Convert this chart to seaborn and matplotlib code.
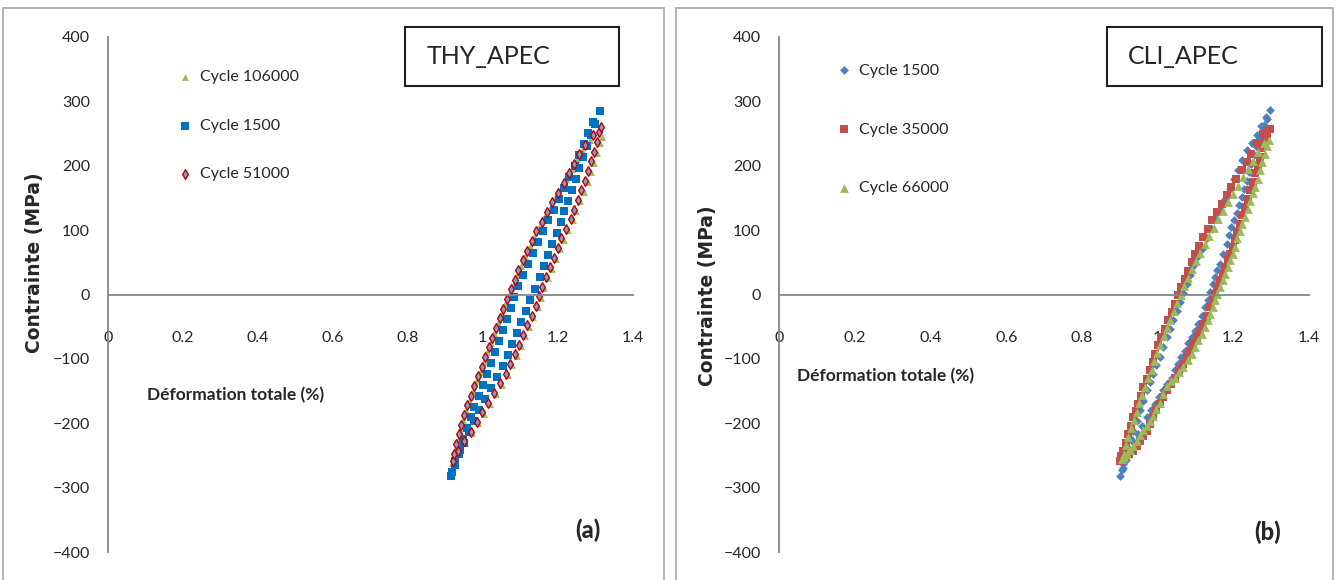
import matplotlib
matplotlib.use("Agg")
import matplotlib.pyplot as plt
import seaborn as sns
import numpy as np
from matplotlib.patches import Rectangle

# ---- data : strain (%) / stress (MPa), one closed loop per cycle ----
# loading branch (bottom -> top) followed by unloading branch (top -> bottom)

# THY_APEC, cycle 106000
thy_106000_strain = [0.917, 0.934, 0.953, 0.971, 0.988, 1.004, 1.020, 1.036, 1.051, 1.066, 1.078, 1.090,
                     1.101, 1.112, 1.123, 1.135, 1.146, 1.155, 1.164, 1.174, 1.185, 1.195, 1.206, 1.216,
                     1.227, 1.240, 1.250, 1.260, 1.270, 1.280, 1.288, 1.296, 1.305, 1.313, 1.319,
                     1.285, 1.266, 1.251, 1.237, 1.223, 1.209, 1.194, 1.179, 1.164, 1.150, 1.137, 1.125,
                     1.113, 1.101, 1.090, 1.080, 1.069, 1.059, 1.050, 1.040, 1.030, 1.021, 1.012, 1.003,
                     0.993, 0.983, 0.973, 0.964, 0.956, 0.948, 0.940, 0.933, 0.927, 0.921]
thy_106000_stress = [-262, -245, -230, -215, -200, -185, -170, -155, -140, -125, -110, -95,
                     -80, -65, -50, -35, -20, -5, 10, 25, 40, 55, 70, 85,
                     100, 115, 130, 145, 160, 175, 190, 205, 220, 235, 245,
                     240, 225, 210, 195, 180, 165, 150, 135, 120, 105, 90, 75,
                     60, 45, 30, 15, 0, -15, -30, -45, -60, -75, -90, -105,
                     -120, -135, -150, -165, -180, -195, -210, -225, -240, -252]

# THY_APEC, cycle 1500
thy_1500_strain = [0.914, 0.925, 0.936, 0.949, 0.962, 0.976, 0.990, 1.005, 1.021, 1.038, 1.053, 1.066,
                   1.078, 1.091, 1.103, 1.116, 1.127, 1.138, 1.152, 1.164, 1.174, 1.186, 1.198, 1.208,
                   1.218, 1.228, 1.238, 1.248, 1.258, 1.268, 1.278, 1.290, 1.300, 1.312,
                   1.295, 1.282, 1.270, 1.258, 1.245, 1.231, 1.217, 1.203, 1.189, 1.175, 1.161, 1.147,
                   1.133, 1.120, 1.107, 1.094, 1.083, 1.074, 1.064, 1.053, 1.043, 1.032, 1.021, 1.011,
                   1.000, 0.989, 0.977, 0.968, 0.958, 0.948, 0.938, 0.927, 0.917]
thy_1500_stress = [-282, -265, -248, -231, -214, -197, -180, -163, -146, -128, -111, -94,
                   -77, -60, -43, -25, -8, 9, 27, 44, 61, 78, 95, 112,
                   129, 146, 163, 180, 197, 214, 231, 248, 265, 285,
                   268, 251, 234, 217, 200, 183, 166, 149, 132, 115, 98, 81,
                   64, 47, 30, 13, -4, -21, -38, -55, -72, -89, -106, -123,
                   -140, -157, -174, -191, -208, -225, -242, -259, -276]

# THY_APEC, cycle 51000
thy_51000_strain = [0.921, 0.933, 0.951, 0.968, 0.984, 0.999, 1.015, 1.030, 1.046, 1.061, 1.072, 1.085,
                    1.096, 1.107, 1.118, 1.130, 1.141, 1.150, 1.158, 1.168, 1.179, 1.189, 1.200, 1.210,
                    1.221, 1.235, 1.244, 1.254, 1.263, 1.273, 1.281, 1.289, 1.297, 1.304, 1.311, 1.315,
                    1.293, 1.273, 1.258, 1.244, 1.230, 1.216, 1.201, 1.186, 1.171, 1.157, 1.143, 1.131,
                    1.119, 1.107, 1.095, 1.085, 1.074, 1.064, 1.055, 1.045, 1.034, 1.025, 1.016, 1.007,
                    0.997, 0.987, 0.977, 0.968, 0.959, 0.951, 0.943, 0.936, 0.929, 0.924]
thy_51000_stress = [-258, -243, -228, -213, -198, -183, -168, -153, -138, -123, -108, -93,
                    -78, -63, -48, -33, -18, -3, 12, 27, 42, 57, 72, 87,
                    102, 117, 132, 147, 162, 177, 192, 207, 222, 237, 252, 260,
                    248, 233, 218, 203, 188, 173, 158, 143, 128, 113, 98, 83,
                    68, 53, 38, 23, 8, -7, -22, -37, -52, -67, -82, -97,
                    -112, -127, -142, -157, -172, -187, -202, -217, -232, -247]

# CLI_APEC, cycle 1500
cli_1500_strain = [0.900, 0.908, 0.917, 0.927, 0.938, 0.949, 0.960, 0.971, 0.982, 0.993, 1.004, 1.015,
                   1.026, 1.037, 1.046, 1.054, 1.063, 1.072, 1.081, 1.090, 1.099, 1.107, 1.116, 1.125,
                   1.132, 1.138, 1.145, 1.151, 1.158, 1.165, 1.174, 1.182, 1.189, 1.195, 1.202, 1.209,
                   1.216, 1.222, 1.229, 1.235, 1.242, 1.248, 1.255, 1.262, 1.268, 1.275, 1.281, 1.288, 1.298,
                   1.286, 1.274, 1.262, 1.249, 1.235, 1.224, 1.213, 1.202, 1.191, 1.178, 1.165, 1.154,
                   1.143, 1.130, 1.116, 1.105, 1.094, 1.086, 1.077, 1.068, 1.059, 1.050, 1.041, 1.033,
                   1.024, 1.015, 1.006, 0.997, 0.988, 0.980, 0.971, 0.962, 0.953, 0.945, 0.936, 0.929,
                   0.922, 0.916, 0.909, 0.905]
cli_1500_stress = [-282, -270, -257, -243, -230, -217, -204, -191, -180, -170, -159, -149,
                   -139, -129, -118, -108, -97, -87, -76, -66, -56, -46, -33, -20,
                   -8, 4, 16, 27, 38, 48, 63, 79, 92, 105, 116, 126,
                   139, 151, 164, 177, 190, 203, 216, 229, 241, 253, 263, 273, 286,
                   275, 262, 247, 236, 224, 209, 193, 179, 164, 149, 133, 118,
                   102, 87, 71, 58, 45, 31, 17, 3, -12, -26, -40, -53,
                   -66, -82, -97, -110, -123, -136, -149, -165, -180, -196, -212, -225,
                   -238, -251, -264, -273]

# CLI_APEC, cycle 35000
cli_35000_strain = [0.900, 0.914, 0.925, 0.936, 0.945, 0.953, 0.962, 0.971, 0.980, 0.988, 0.997, 1.006,
                    1.015, 1.024, 1.035, 1.046, 1.057, 1.068, 1.077, 1.085, 1.094, 1.103, 1.112, 1.121,
                    1.130, 1.138, 1.145, 1.151, 1.158, 1.165, 1.172, 1.178, 1.185, 1.191, 1.198, 1.204,
                    1.211, 1.217, 1.224, 1.231, 1.238, 1.244, 1.251, 1.257, 1.264, 1.270, 1.277, 1.283,
                    1.290, 1.297,
                    1.288, 1.279, 1.263, 1.248, 1.235, 1.222, 1.208, 1.195, 1.182, 1.169, 1.156, 1.143,
                    1.132, 1.121, 1.110, 1.099, 1.090, 1.081, 1.072, 1.063, 1.055, 1.046, 1.037, 1.028,
                    1.020, 1.011, 1.002, 0.993, 0.987, 0.980, 0.971, 0.962, 0.956, 0.949, 0.943, 0.936,
                    0.929, 0.922, 0.916, 0.909, 0.904]
cli_35000_stress = [-258, -253, -248, -243, -235, -227, -220, -212, -201, -191, -180, -170,
                    -159, -149, -139, -129, -118, -108, -97, -87, -76, -66, -56, -46,
                    -33, -20, -9, 1, 12, 22, 32, 42, 53, 63, 74, 84,
                    97, 110, 123, 136, 149, 162, 175, 188, 201, 214, 227, 240,
                    250, 257,
                    254, 250, 235, 219, 206, 193, 180, 167, 154, 141, 128, 115,
                    102, 89, 76, 63, 50, 37, 24, 11, -1, -14, -27, -40,
                    -53, -66, -79, -92, -105, -118, -131, -144, -157, -170, -181, -191,
                    -204, -217, -230, -243, -251]

# CLI_APEC, cycle 66000
cli_66000_strain = [0.905, 0.912, 0.918, 0.927, 0.936, 0.945, 0.953, 0.962, 0.971, 0.980, 0.988, 0.997,
                    1.006, 1.015, 1.024, 1.035, 1.046, 1.057, 1.068, 1.079, 1.090, 1.099, 1.107, 1.116,
                    1.125, 1.132, 1.138, 1.145, 1.151, 1.158, 1.165, 1.172, 1.178, 1.185, 1.191, 1.198,
                    1.204, 1.211, 1.217, 1.224, 1.231, 1.238, 1.244, 1.251, 1.257, 1.264, 1.270, 1.277,
                    1.283, 1.288, 1.294,
                    1.281, 1.266, 1.252, 1.239, 1.226, 1.212, 1.199, 1.186, 1.173, 1.160, 1.148, 1.136,
                    1.124, 1.112, 1.101, 1.090, 1.080, 1.070, 1.061, 1.052, 1.043, 1.034, 1.025, 1.016,
                    1.007, 0.998, 0.991, 0.984, 0.975, 0.966, 0.959, 0.952, 0.945, 0.937, 0.930, 0.923,
                    0.916, 0.910]
cli_66000_stress = [-256, -252, -248, -241, -235, -227, -219, -211, -204, -196, -188, -178,
                    -168, -155, -142, -135, -129, -121, -113, -102, -92, -81, -71, -61,
                    -51, -40, -30, -19, -9, 1, 11, 22, 32, 43, 53, 63,
                    74, 87, 99, 110, 120, 133, 146, 157, 167, 180, 193, 206,
                    219, 230, 240,
                    236, 222, 208, 195, 182, 169, 156, 143, 130, 117, 104, 91,
                    78, 65, 52, 39, 26, 13, 0, -13, -26, -39, -52, -65,
                    -78, -91, -104, -117, -130, -143, -156, -169, -182, -195, -208, -221,
                    -234, -247]

x_ticks = [0, 0.2, 0.4, 0.6, 0.8, 1.0, 1.2, 1.4]
x_tick_labels = ["0", "0.2", "0.4", "0.6", "0.8", "1", "1.2", "1.4"]
y_ticks = [-400, -300, -200, -100, 0, 100, 200, 300, 400]

sns.set_style("white")
plt.rcParams['font.family'] = ['Lato', 'DejaVu Sans']

W, H = 1335, 580
fig = plt.figure(figsize=(W / 100, H / 100), dpi=100)

def px(x0, y0, x1, y1):
    # pixel box -> figure fraction [left, bottom, width, height]
    return [x0 / W, 1 - y1 / H, (x1 - x0) / W, (y1 - y0) / H]

GREY = '#868686'

def setup_axes(ax):
    ax.set_xlim(0, 1.4)
    ax.set_ylim(-400, 400)
    ax.spines['top'].set_visible(False)
    ax.spines['right'].set_visible(False)
    ax.spines['bottom'].set_position(('data', 0))
    for s in ['left', 'bottom']:
        ax.spines[s].set_color(GREY)
        ax.spines[s].set_linewidth(1.3)
    ax.set_xticks(x_ticks)
    ax.set_xticklabels(x_tick_labels)
    ax.set_yticks(y_ticks)
    ax.tick_params(axis='x', direction='out', length=6, width=1.2, color=GREY, pad=20, labelsize=11.5)
    ax.tick_params(axis='y', direction='out', length=4, width=1.2, color=GREY, pad=9, labelsize=11.5)
    ax.set_facecolor('none')

# ---- panel (a) ----
ax1 = fig.add_axes(px(108, 37, 632.7, 552))
sns.scatterplot(x=thy_106000_strain, y=thy_106000_stress, marker='^', color='#9BBB59', s=24,
                linewidth=0, label='Cycle 106000', ax=ax1)
sns.scatterplot(x=thy_1500_strain, y=thy_1500_stress, marker='s', color='#0070C0', s=38,
                linewidth=0, label='Cycle 1500', ax=ax1)
sns.scatterplot(x=thy_51000_strain, y=thy_51000_stress, marker='d', color='#7F9FCB', s=24,
                edgecolor='#C00000', linewidth=1.0, label='Cycle 51000', ax=ax1)
setup_axes(ax1)
ax1.set_xlabel('Déformation totale (%)', fontweight='bold', fontsize=12.5, va='center')
ax1.xaxis.set_label_coords((235.5 - 108) / 524.7, (552 - 395) / 515)
ax1.set_ylabel('Contrainte (MPa)', fontweight='bold', fontsize=13.5, family='DejaVu Sans', va='center')
ax1.yaxis.set_label_coords((35 - 108) / 524.7, (552 - 263) / 515)
ax1.legend(loc='upper left', bbox_to_anchor=(179 / W, 1 - 70 / H), bbox_transform=fig.transFigure,
           frameon=False, fontsize=11.5, handlelength=0.8, handletextpad=0.5, labelspacing=2.15,
           borderpad=0, borderaxespad=0, scatterpoints=1)

# ---- panel (b) ----
ax2 = fig.add_axes(px(779.2, 37, 1309, 552))
sns.scatterplot(x=cli_1500_strain, y=cli_1500_stress, marker='D', color='#4F81BD', s=20,
                linewidth=0, label='Cycle 1500', ax=ax2)
sns.scatterplot(x=cli_35000_strain, y=cli_35000_stress, marker='s', color='#C0504D', s=34,
                linewidth=0, label='Cycle 35000', ax=ax2)
sns.scatterplot(x=cli_66000_strain, y=cli_66000_stress, marker='^', color='#9BBB59', s=40,
                linewidth=0, label='Cycle 66000', ax=ax2)
setup_axes(ax2)
ax2.set_xlabel('Déformation totale (%)', fontweight='bold', fontsize=12.5, va='center')
ax2.xaxis.set_label_coords((886 - 779.2) / 529.8, (552 - 376) / 515)
ax2.set_ylabel('Contrainte (MPa)', fontweight='bold', fontsize=13.5, family='DejaVu Sans', va='center')
ax2.yaxis.set_label_coords((708 - 779.2) / 529.8, (552 - 296) / 515)
ax2.legend(loc='upper left', bbox_to_anchor=(838 / W, 1 - 63.5 / H), bbox_transform=fig.transFigure,
           frameon=False, fontsize=11.5, handlelength=0.8, handletextpad=0.5, labelspacing=2.8,
           borderpad=0, borderaxespad=0, scatterpoints=1)

# ---- panel frames, name boxes, (a)/(b) ----
for x0, x1 in [(3, 664), (676, 1333)]:
    fig.patches.append(Rectangle((x0 / W, -0.05), (x1 - x0) / W, 1.05 - 8 / H, transform=fig.transFigure,
                                 fill=False, edgecolor='#A6A6A6', linewidth=1.2))

for (x0, x1, tx, name) in [(405, 619, 427, 'THY_APEC'), (1107, 1322, 1128, 'CLI_APEC')]:
    fig.patches.append(Rectangle((x0 / W, 1 - 86 / H), (x1 - x0) / W, 59 / H, transform=fig.transFigure,
                                 fill=False, edgecolor='#202020', linewidth=1.5))
    fig.text(tx / W, 1 - 57 / H, name, fontsize=18, ha='left', va='center')

fig.text(588 / W, 1 - 530 / H, '(a)', fontsize=17, fontweight='black', ha='center', va='center')
fig.text(1268 / W, 1 - 532 / H, '(b)', fontsize=17, fontweight='black', ha='center', va='center')

fig.savefig('out.png', dpi=100, facecolor='white')
